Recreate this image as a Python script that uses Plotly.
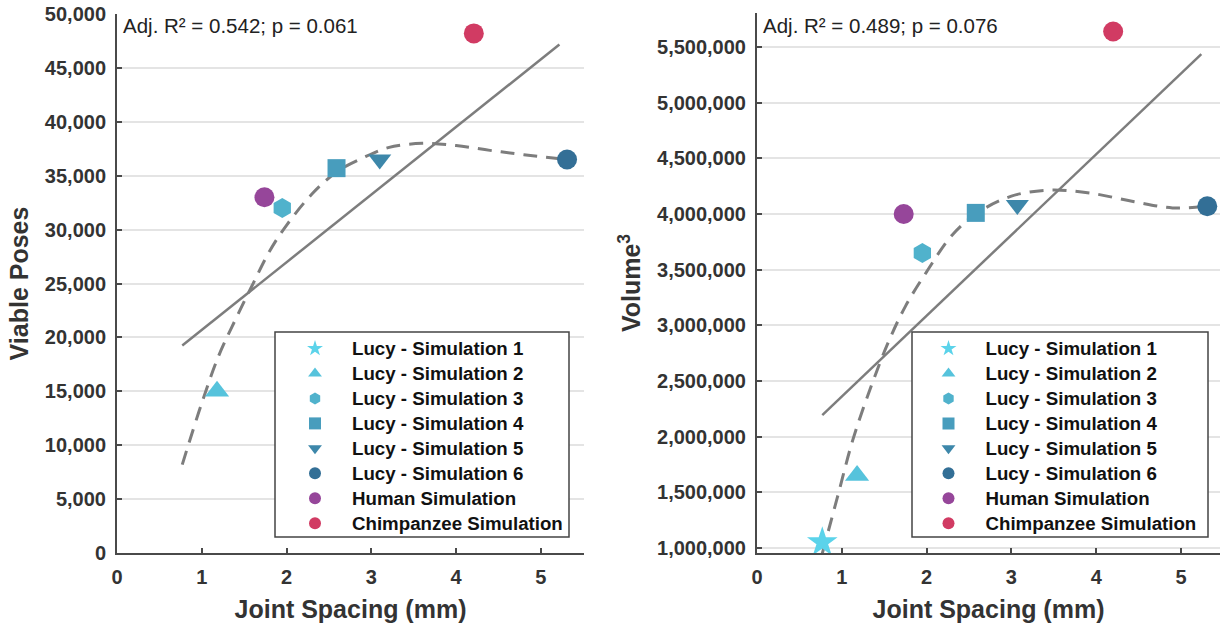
import plotly.graph_objects as go

# ---------------- data ----------------
series_names = ["Lucy - Simulation 1", "Lucy - Simulation 2", "Lucy - Simulation 3",
                "Lucy - Simulation 4", "Lucy - Simulation 5", "Lucy - Simulation 6",
                "Human Simulation", "Chimpanzee Simulation"]
joint_spacing_left = [None, 1.18, 1.95, 2.59, 3.10, 5.31, 1.74, 4.21]
viable_poses = [None, 15000, 32000, 35700, 36500, 36500, 33000, 48200]

joint_spacing_right = [0.77, 1.18, 1.95, 2.58, 3.07, 5.31, 1.73, 4.20]
volume = [1050000, 1650000, 3650000, 4010000, 4080000, 4070000, 4000000, 5640000]

# linear fit lines (end points)
fit_left_x = [0.77, 5.22]
fit_left_y = [19250, 47170]
fit_right_x = [0.77, 5.24]
fit_right_y = [2193000, 5437000]

# smooth (polynomial) trend curves
curve_left_x = [0.77, 1.0, 1.2, 1.4, 1.6, 1.8, 2.0, 2.3, 2.6, 2.9, 3.2, 3.6, 4.0, 4.4, 4.8, 5.3]
curve_left_y = [8200, 13900, 18300, 21700, 24900, 28000, 30400, 33300, 35400, 36650, 37600,
                38000, 37800, 37350, 36950, 36500]
curve_right_x = [0.77, 0.95, 1.13, 1.35, 1.55, 1.75, 2.0, 2.3, 2.6, 3.0, 3.45, 3.95, 4.45, 4.9, 5.3]
curve_right_y = [950000, 1460000, 1970000, 2460000, 2850000, 3170000, 3480000, 3810000,
                 4010000, 4160000, 4215000, 4185000, 4110000, 4055000, 4070000]

stats_left = "Adj. R² = 0.542; p = 0.061"
stats_right = "Adj. R² = 0.489; p = 0.076"

# ---------------- styles ----------------
symbols = ["star", "triangle-up", "hexagon", "square", "triangle-down", "circle", "circle", "circle"]
colors = ["#5BD3EA", "#56C3DC", "#50B2CC", "#489DBD", "#3D87AA", "#336F96", "#96469A", "#D13B63"]
sizes = [23, 21, 20, 18, 20, 20, 20, 20]

FONT = "Liberation Sans, Arial, Helvetica, sans-serif"
AX = "#4a4a4a"
GRID = "#e4e4e4"
W, H = 1220, 627

def px_x(p):
    return p / W

def px_y(p):
    return 1 - p / H

def legend_label(s):
    return '<span style="font-size:18.7px">%s</span>' % s

fig = go.Figure()

# trend lines
line_style = dict(color="#7d7d7d", width=2.5)
dash_style = dict(color="#7d7d7d", width=3, dash="14px,9px", shape="spline")
fig.add_trace(go.Scatter(x=fit_left_x, y=fit_left_y, mode="lines", showlegend=False,
                         line=line_style, xaxis="x", yaxis="y", hoverinfo="skip"))
fig.add_trace(go.Scatter(x=curve_left_x, y=curve_left_y, mode="lines", showlegend=False,
                         line=dash_style, xaxis="x", yaxis="y", hoverinfo="skip"))
fig.add_trace(go.Scatter(x=fit_right_x, y=fit_right_y, mode="lines", showlegend=False,
                         line=line_style, xaxis="x2", yaxis="y2", hoverinfo="skip"))
fig.add_trace(go.Scatter(x=curve_right_x, y=curve_right_y, mode="lines", showlegend=False,
                         line=dash_style, xaxis="x2", yaxis="y2", hoverinfo="skip"))

for i, name in enumerate(series_names):
    fig.add_trace(go.Scatter(
        x=[joint_spacing_left[i]], y=[viable_poses[i]], mode="markers", name=legend_label(name),
        marker=dict(symbol=symbols[i], color=colors[i], size=sizes[i], line=dict(width=0)),
        xaxis="x", yaxis="y", legend="legend", legendgroup="L%d" % i))
for i, name in enumerate(series_names):
    fig.add_trace(go.Scatter(
        x=[joint_spacing_right[i]], y=[volume[i]], mode="markers", name=legend_label(name),
        marker=dict(symbol=symbols[i], color=colors[i], size=sizes[i], line=dict(width=0)),
        xaxis="x2", yaxis="y2", legend="legend2", legendgroup="R%d" % i))

tickfont = dict(family=FONT, size=20, color="#333333", weight="bold")
titlefont = dict(family=FONT, size=25, color="#333333", weight="bold")

common_x = dict(showgrid=False, zeroline=False, showline=True, linecolor=AX, linewidth=2,
                ticks="inside", ticklen=5, tickcolor=AX, tickwidth=1.5, dtick=1, tick0=0,
                tickfont=tickfont, ticklabelstandoff=5, automargin=False)
common_y = dict(showgrid=True, gridcolor=GRID, gridwidth=2, zeroline=False, showline=True,
                linecolor=AX, linewidth=2, ticks="inside", ticklen=5, tickcolor=AX,
                tickwidth=1.5, tickformat=",", tickfont=tickfont, ticklabelstandoff=5,
                automargin=False)

legend_common = dict(bgcolor="rgba(0,0,0,0)", borderwidth=0, itemsizing="constant",
                     font=dict(family=FONT, size=16.9, color="#111111", weight="bold"),
                     itemwidth=64, traceorder="grouped", tracegroupgap=0,
                     xanchor="left", yanchor="top", itemclick=False, itemdoubleclick=False)

fig.update_layout(
    width=W, height=H, autosize=False,
    margin=dict(l=0, r=0, t=0, b=0, pad=0),
    paper_bgcolor="white", plot_bgcolor="white",
    font=dict(family=FONT, color="#222222"),
    xaxis=dict(common_x, domain=[px_x(117), px_x(584)], range=[0, 5.51], anchor="y",
               title=dict(text="Joint Spacing (mm)", font=titlefont, standoff=13)),
    yaxis=dict(common_y, domain=[px_y(553), px_y(14)], range=[0, 50000], anchor="x", dtick=5000,
               title=dict(text="Viable Poses", font=titlefont, standoff=9)),
    xaxis2=dict(common_x, domain=[px_x(757), 1.0], range=[0, 5.46], anchor="y2",
                title=dict(text="Joint Spacing (mm)", font=titlefont, standoff=13)),
    yaxis2=dict(common_y, domain=[px_y(553), px_y(13)], range=[954000, 5806000], anchor="x2",
                dtick=500000, tick0=0,
                title=dict(text="Volume<sup>3</sup>", font=titlefont, standoff=9)),
    legend=dict(legend_common, x=px_x(278), y=px_y(331)),
    legend2=dict(legend_common, x=px_x(911.5), y=px_y(331)),
    showlegend=True,
    shapes=[
        dict(type="rect", xref="paper", yref="paper", x0=px_x(275), x1=px_x(569),
             y0=px_y(537), y1=px_y(332), line=dict(color="#444444", width=1.5),
             fillcolor="white", layer="above"),
        dict(type="rect", xref="paper", yref="paper", x0=px_x(912), x1=px_x(1208),
             y0=px_y(537), y1=px_y(332), line=dict(color="#444444", width=1.5),
             fillcolor="white", layer="above"),
    ],
    annotations=[
        dict(text=stats_left, xref="paper", yref="paper", x=px_x(121), y=px_y(25),
             xanchor="left", yanchor="middle", showarrow=False,
             font=dict(family=FONT, size=20.5, color="#222222")),
        dict(text=stats_right, xref="paper", yref="paper", x=px_x(761), y=px_y(25),
             xanchor="left", yanchor="middle", showarrow=False,
             font=dict(family=FONT, size=20.5, color="#222222")),
    ],
)

fig.write_html("out.html", config={"displayModeBar": False},
               post_script="document.body.style.margin='0';document.body.style.overflow='hidden';")
